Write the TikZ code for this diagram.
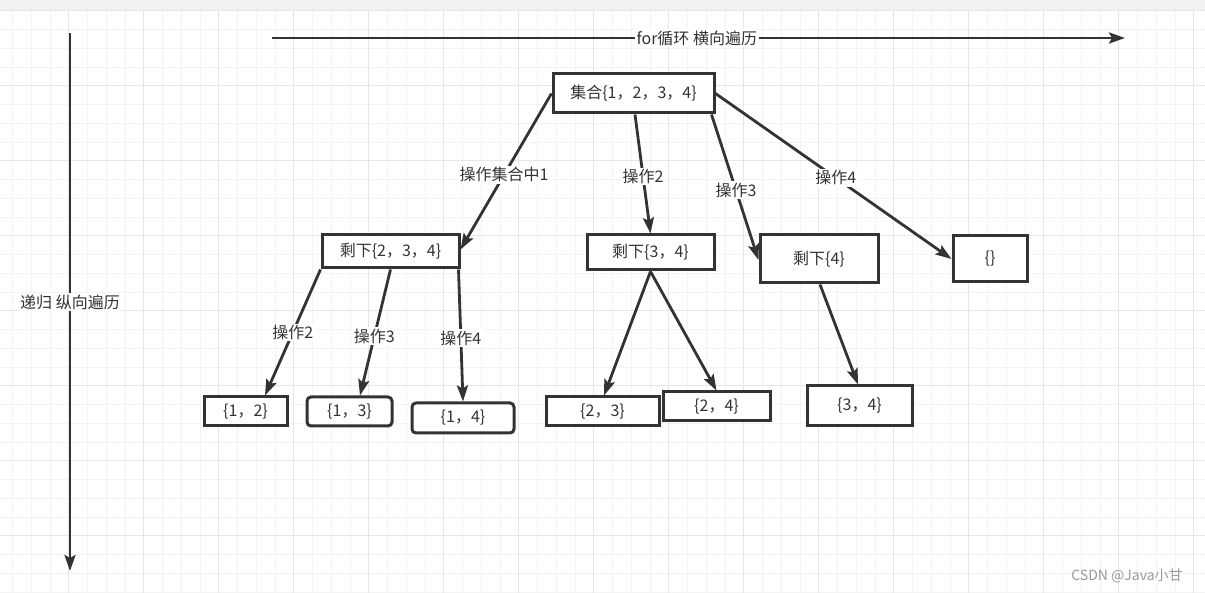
\documentclass[tikz,border=0pt]{standalone}
\usepackage{fontspec}
\setmainfont{Noto Sans CJK SC}
\usetikzlibrary{arrows.meta}
\definecolor{linec}{HTML}{333333}
\definecolor{minorc}{HTML}{F3F3F3}
\definecolor{majorc}{HTML}{E6E6E6}
\definecolor{bandc}{HTML}{F1F1F1}
\begin{document}
\begin{tikzpicture}[x=1pt,y=-1pt,
  txt/.style={font=\fontsize{16}{19}\selectfont, text=linec},
  box/.style={txt, draw=linec, line width=3pt, fill=white, inner sep=0pt},
  rbox/.style={box, rounded corners=4pt},
  arr/.style={draw=linec, line width=2.8pt, -{Stealth[length=16pt,width=11pt,inset=3pt]}},
  lbl/.style={txt, fill=white, inner sep=1.5pt},
  minorl/.style={draw=minorc, line width=0.8pt},
  majorl/.style={draw=majorc, line width=0.8pt}]
\useasboundingbox (0,0) rectangle (1205,593);
\fill[white] (0,0) rectangle (1205,593);
\fill[bandc] (0,0) rectangle (1205,10);
% grid
\foreach \i in {0,...,64} {\draw[minorl] (12.45+18.75*\i,10) -- (12.45+18.75*\i,593);}
\foreach \i in {0,...,31} {\draw[minorl] (0,10.7+18.75*\i) -- (1205,10.7+18.75*\i);}
\foreach \i in {0,...,15} {\draw[majorl] (68.7+75*\i,10) -- (68.7+75*\i,593);}
\foreach \i in {0,...,7} {\draw[majorl] (0,10.7+75*\i) -- (1205,10.7+75*\i);}
% axes
\coordinate (h1) at (272,38);
\coordinate (h2) at (1125,38);
\coordinate (v1) at (70,33);
\coordinate (v2) at (70,571);
\draw[arr] (h1) -- node[lbl, pos=0.498] (hl) {for循环 横向遍历} (h2);
\draw[arr] (v1) -- node[lbl, pos=0.5] (vl) {递归 纵向遍历} (v2);
% nodes
\node[box, minimum width=161pt, minimum height=39pt] (root) at (633.5,93.5) {集合\{1，2，3，4\}};
\node[box, minimum width=137pt, minimum height=33pt] (n234) at (390.5,251.5) {剩下\{2，3，4\}};
\node[box, minimum width=127pt, minimum height=35pt] (n34) at (650.5,252.5) {剩下\{3，4\}};
\node[box, minimum width=118pt, minimum height=48pt] (n4) at (819,259) {剩下\{4\}};
\node[box, minimum width=74pt, minimum height=46pt] (ne) at (990,259) {\{\}};
\node[box, minimum width=83pt, minimum height=29pt] (n12) at (245.5,411.5) {\{1，2\}};
\node[rbox, minimum width=85pt, minimum height=29pt] (n13) at (349.5,411.5) {\{1，3\}};
\node[rbox, minimum width=102pt, minimum height=30pt] (n14) at (463,418) {\{1，4\}};
\node[box, minimum width=113pt, minimum height=29pt] (n23) at (602.5,411.5) {\{2，3\}};
\node[box, minimum width=107pt, minimum height=29pt] (n24) at (716.5,406.5) {\{2，4\}};
\node[box, minimum width=105pt, minimum height=40pt] (m34) at (859.5,406) {\{3，4\}};
% edges
\draw[arr] (root.west) -- node[lbl, pos=0.52] {操作集合中1} ([yshift=2pt]n234.east);
\draw[arr] ([xshift=1.5pt]root.south) -- node[lbl, pos=0.52] {操作2} (n34.north);
\draw[arr] ([xshift=-4pt]root.south east) -- node[lbl, pos=0.52] {操作3} ([yshift=-1pt]n4.west);
\draw[arr] (root.east) -- node[lbl, pos=0.51] {操作4} (ne.west);
\draw[arr] (n234.south west) -- node[lbl, pos=0.5] {操作2} ([xshift=19.5pt]n12.north);
\draw[arr] (n234.south) -- node[lbl, pos=0.53] {操作3} ([xshift=10.5pt]n13.north);
\draw[arr] ([xshift=-2pt]n234.south east) -- node[lbl, pos=0.52] {操作4} (n14.north);
\draw[arr] (n34.south) -- ([xshift=1.5pt]n23.north);
\draw[arr] (n34.south) -- (n24.north);
\draw[arr] ([xshift=1pt]n4.south) -- ([xshift=-1.5pt]m34.north);
% watermark
\node[font=\fontsize{14}{16}\selectfont, text=black!40] (wm) at (1127,576) {CSDN @Java小甘};
\end{tikzpicture}
\end{document}
